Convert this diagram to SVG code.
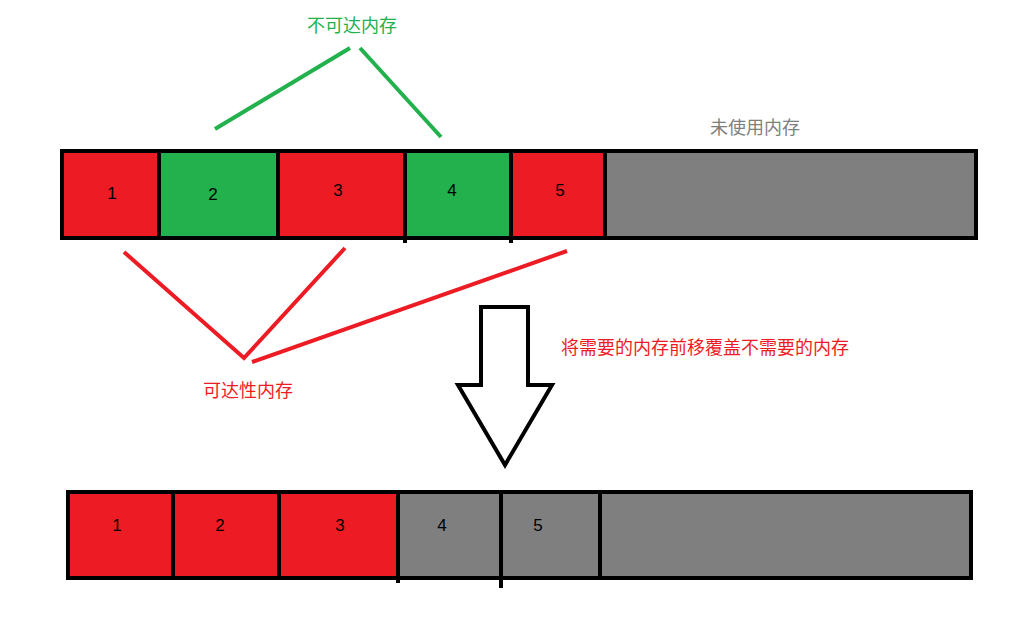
<svg xmlns="http://www.w3.org/2000/svg" width="1022" height="620" viewBox="0 0 1022 620">
<style>
.b{stroke:#000;stroke-width:4}
.r{fill:#ED1C24}.g{fill:#22B14C}.k{fill:#7F7F7F}
.n{font-family:"Liberation Sans",sans-serif;font-size:17px;fill:#000;text-anchor:middle}
.t{font-family:"Liberation Sans","Noto Sans CJK SC",sans-serif;font-size:18px}
</style>
<rect width="1022" height="620" fill="#fff"/>
<g id="top">
<rect class="r" x="62" y="151" width="97" height="87"/>
<rect class="g" x="159" y="151" width="119" height="87"/>
<rect class="r" x="278" y="151" width="127" height="87"/>
<rect class="g" x="405" y="151" width="106" height="87"/>
<rect class="r" x="511" y="151" width="94" height="87"/>
<rect class="k" x="605" y="151" width="371" height="87"/>
<rect x="62" y="151" width="914" height="87" fill="none" class="b"/>
<path class="b" d="M159 151V238M278 151V238M405 151V243M511 151V243M605 151V238"/>
<text class="n" x="112" y="199">1</text><text class="n" x="213" y="200">2</text><text class="n" x="338" y="196">3</text><text class="n" x="452" y="196">4</text><text class="n" x="560" y="196">5</text>
</g>
<g id="bottom">
<rect class="r" x="68" y="492" width="330" height="86"/>
<rect class="k" x="398" y="492" width="573" height="86"/>
<rect x="68" y="492" width="903" height="86" fill="none" class="b"/>
<path class="b" d="M173 492V578M279 492V578M398 492V583M501 490V588M600 492V578"/>
<text class="n" x="117" y="531">1</text><text class="n" x="220" y="531">2</text><text class="n" x="340" y="531">3</text><text class="n" x="442" y="531">4</text><text class="n" x="538" y="531">5</text>
</g>
<g id="connectors" fill="none" stroke-width="4">
<path stroke="#22B14C" d="M215 129L350 48M360 48L441 137"/>
<path stroke="#ED1C24" d="M124 252L244 358L345 248M252 362L567 251"/>
<polygon class="b" fill="#fff" points="481,307 528,307 528,385 552,385 505,465 458,385 481,385"/>
</g>
<g id="labels" class="t">
<text x="352" y="32" fill="#22B14C" text-anchor="middle">不可达内存</text>
<text x="248" y="397" fill="#ED1C24" text-anchor="middle">可达性内存</text>
<text x="755" y="134" fill="#7F7F7F" text-anchor="middle">未使用内存</text>
<text x="561" y="354" fill="#ED1C24">将需要的内存前移覆盖不需要的内存</text>
</g>
</svg>
